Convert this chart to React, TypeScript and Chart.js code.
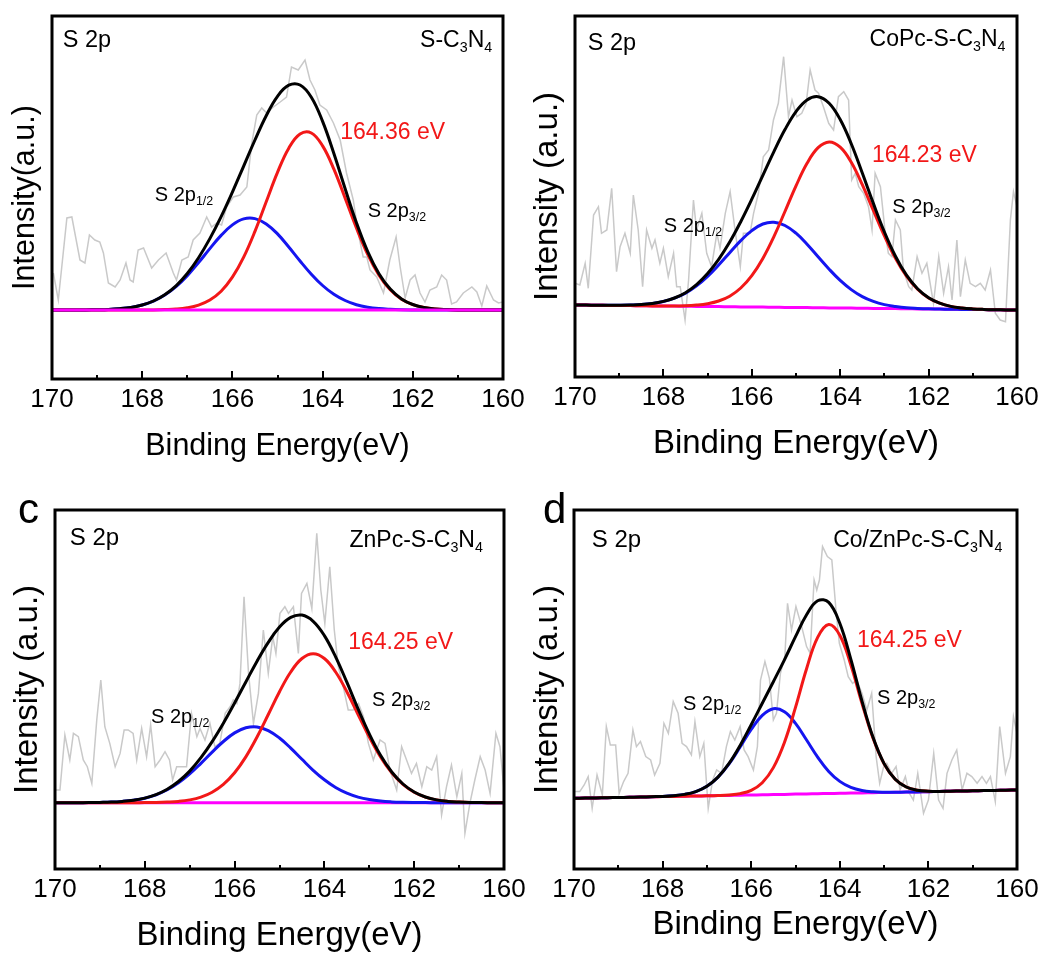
import React, { useEffect, useRef } from "react";
import { Chart, registerables } from "chart.js";

Chart.register(...registerables);

const FONT = '"Liberation Sans", Arial, Helvetica, sans-serif';

// common energy grid of the fitted curves (eV)
const energyGrid = [170, 169.75, 169.5, 169.25, 169, 168.75, 168.5, 168.25, 168, 167.75, 167.5, 167.25, 167, 166.75, 166.5, 166.25, 166, 165.75, 165.5, 165.25, 165, 164.75, 164.5, 164.25, 164, 163.75, 163.5, 163.25, 163, 162.75, 162.5, 162.25, 162, 161.75, 161.5, 161.25, 161, 160.75, 160.5, 160.25, 160];
const minorTickEnergies = [169, 167, 165, 163, 161];
const xTickStep = 2;

// ---------- panel a: S-C3N4 ----------
const aRawEnergy = [169.97, 169.86, 169.67, 169.56, 169.38, 169.27, 169.17, 169.05, 168.94, 168.86, 168.75, 168.6, 168.49, 168.36, 168.27, 168.2, 168.09, 167.97, 167.79, 167.64, 167.47, 167.31, 167.24, 167.12, 166.98, 166.87, 166.72, 166.57, 166.46, 166.35, 166.24, 166.13, 165.98, 165.83, 165.68, 165.57, 165.46, 165.35, 165.24, 165.09, 164.94, 164.8, 164.69, 164.54, 164.39, 164.28, 164.17, 164.06, 163.91, 163.76, 163.61, 163.47, 163.32, 163.21, 163.1, 163.02, 162.95, 162.8, 162.65, 162.51, 162.37, 162.28, 162.17, 162.06, 161.95, 161.84, 161.73, 161.62, 161.47, 161.36, 161.25, 161.14, 161.03, 160.88, 160.69, 160.58, 160.47, 160.36, 160.21, 160.1, 160.0];
const aRawIntensity = [37, 10, 92, 93, 50, 47, 75, 70, 68, 57, 27, 23, 30, 47, 30, 28, 60, 62, 42, 50, 57, 37, 30, 50, 53, 70, 77, 93, 83, 87, 85, 103, 113, 115, 123, 167, 195, 202, 197, 203, 208, 213, 243, 240, 250, 230, 220, 205, 200, 187, 170, 137, 110, 77, 53, 53, 40, 33, 17, 50, 73, 43, 12, 30, 35, 17, 8, 20, 23, 35, 30, 6, 8, 17, 23, 18, 4, 24, 10, 7, 8];
const aBaseline = [0, 0, 0, 0, 0, 0, 0, 0, 0, 0, 0, 0, 0, 0, 0, 0, 0, 0, 0, 0, 0, 0, 0, 0, 0, 0, 0, 0, 0, 0, 0, 0, 0, 0, 0, 0, 0, 0, 0, 0, 0];
const aPeak32 = [0, 0, 0, 0, 0, 0, 0, 0, 0, 0.1, 0.4, 0.9, 2.2, 4.9, 10.0, 18.8, 32.8, 52.8, 78.6, 108.2, 137.6, 161.8, 176.0, 177.0, 164.1, 140.8, 111.8, 82.0, 55.6, 34.9, 20.2, 10.8, 5.4, 2.5, 1.0, 0.4, 0.1, 0, 0, 0, 0];
const aPeak12 = [0, 0, 0, 0.1, 0.3, 0.6, 1.3, 2.6, 5.0, 8.9, 14.9, 23.3, 34.3, 47.4, 61.4, 74.6, 85.1, 91.1, 91.4, 86.1, 76.1, 63.0, 49.0, 35.8, 24.5, 15.7, 9.5, 5.3, 2.8, 1.4, 0.7, 0.3, 0.1, 0, 0, 0, 0, 0, 0, 0, 0];

// ---------- panel b: CoPc-S-C3N4 ----------
const bRawEnergy = [170.0, 169.89, 169.77, 169.7, 169.58, 169.47, 169.4, 169.28, 169.17, 169.06, 168.98, 168.87, 168.75, 168.68, 168.57, 168.47, 168.38, 168.26, 168.19, 168.08, 168.0, 167.89, 167.77, 167.7, 167.62, 167.51, 167.43, 167.32, 167.25, 167.13, 167.02, 166.91, 166.79, 166.72, 166.6, 166.49, 166.38, 166.26, 166.19, 166.04, 165.96, 165.85, 165.74, 165.62, 165.51, 165.4, 165.28, 165.17, 165.09, 164.98, 164.87, 164.77, 164.68, 164.57, 164.49, 164.38, 164.26, 164.15, 164.04, 163.92, 163.81, 163.74, 163.66, 163.58, 163.47, 163.36, 163.28, 163.21, 163.09, 162.98, 162.91, 162.83, 162.75, 162.64, 162.57, 162.45, 162.38, 162.26, 162.15, 162.04, 161.89, 161.77, 161.66, 161.55, 161.47, 161.36, 161.28, 161.17, 161.06, 160.94, 160.83, 160.72, 160.6, 160.49, 160.38, 160.26, 160.15, 160.08, 160.0];
const bRawIntensity = [21.7, 20, 41.7, 16.7, 90, 98.3, 71.7, 75, 116.7, 33.3, 58.3, 71.7, 51.7, 110, 75, 18.3, 75, 56.7, 65, 41.7, 56.7, 28.3, 51.7, 18.3, 18.3, -15, 25, 105, 75, 91.7, 51.7, 38.3, 71.7, 56.7, 91.7, 113.3, 75, 38.3, 71.7, 71.7, 91.7, 111.7, 148.3, 155, 185, 201.7, 248.3, 188.3, 205, 188.3, 191.7, 201.7, 235, 215, 211.7, 198.3, 181.7, 175, 208.3, 213.3, 205, 125, 131.7, 118.3, 111.7, 98.3, 75, 131.7, 118.3, 71.7, 51.7, 48.3, 85, 75, 35, 18.3, 15, 48.3, 31.7, 41.7, 1.7, 48.3, 11.7, 38.3, 5, 65, 8.3, 45, 21.7, 18.3, 21.7, 15, 35, -8.3, -15, -16.7, 85, 113.3, 98.3];
const bBaseline = [0, -0.1, -0.3, -0.4, -0.5, -0.6, -0.8, -0.9, -1.0, -1.1, -1.3, -1.4, -1.5, -1.6, -1.8, -1.9, -2.0, -2.1, -2.3, -2.4, -2.5, -2.6, -2.8, -2.9, -3.0, -3.1, -3.3, -3.4, -3.5, -3.6, -3.8, -3.9, -4.0, -4.1, -4.3, -4.4, -4.5, -4.6, -4.8, -4.9, -5.0];
const bPeak32 = [0, 0, 0, 0, 0, 0, 0, 0, 0.1, 0.2, 0.5, 1.3, 2.8, 5.6, 10.6, 18.9, 31.4, 48.7, 70.7, 95.9, 121.6, 144.3, 160.1, 166.0, 160.9, 145.9, 123.6, 98.0, 72.6, 50.3, 32.6, 19.7, 11.1, 5.9, 2.9, 1.4, 0.6, 0.2, 0.1, 0, 0];
const bPeak12 = [0, 0, 0, 0.1, 0.3, 0.6, 1.2, 2.4, 4.5, 7.9, 13.1, 20.5, 30.1, 41.6, 54.1, 66.3, 76.4, 83.1, 85.0, 81.9, 74.3, 63.4, 51.0, 38.7, 27.6, 18.5, 11.7, 7.0, 3.9, 2.1, 1.0, 0.5, 0.2, 0.1, 0, 0, 0, 0, 0, 0, 0];

// ---------- panel c: ZnPc-S-C3N4 ----------
const cRawEnergy = [170.0, 169.89, 169.78, 169.67, 169.59, 169.48, 169.37, 169.28, 169.18, 169.07, 168.98, 168.89, 168.78, 168.66, 168.55, 168.46, 168.37, 168.26, 168.18, 168.07, 167.96, 167.87, 167.77, 167.66, 167.55, 167.45, 167.38, 167.29, 167.18, 167.07, 166.96, 166.84, 166.77, 166.66, 166.55, 166.44, 166.33, 166.21, 166.1, 166.03, 165.95, 165.88, 165.79, 165.69, 165.58, 165.47, 165.36, 165.25, 165.15, 165.08, 164.99, 164.88, 164.8, 164.69, 164.58, 164.51, 164.39, 164.28, 164.17, 164.08, 163.99, 163.88, 163.78, 163.69, 163.58, 163.47, 163.36, 163.24, 163.13, 163.02, 162.91, 162.76, 162.65, 162.54, 162.39, 162.28, 162.17, 162.06, 161.95, 161.83, 161.72, 161.61, 161.5, 161.39, 161.28, 161.17, 161.05, 160.94, 160.87, 160.76, 160.65, 160.53, 160.42, 160.31, 160.18, 160.09, 160.0];
const cRawIntensity = [12.7, 12.7, 67.7, 42.7, 69.3, 66, 42.7, 36, 19.3, 82.7, 122.7, 76, 59.3, 36, 49.3, 72.7, 72.7, 69.3, 42.7, 74.3, 46, 77.7, 36, 42.7, 51, 42.7, 22.7, 36, 36, 36, 89.3, 66, 74.3, 62.7, 79.3, 56, 59.3, 89.3, 96, 102.7, 99.3, 119.3, 206, 129.3, 79.3, 109.3, 172.7, 129.3, 166, 149.3, 189.3, 196, 189.3, 196, 149.3, 209.3, 219.3, 194.3, 269.3, 212.7, 179.3, 236, 172.7, 136, 116, 92.7, 92.7, 99.3, 86, 59.3, 42.7, 62.7, 59.3, 32.7, 12.7, 56, 42.7, 29.3, 39.3, 16, 36, 32.7, 46, -12.3, 16, 37.7, 6, 29.3, -30.7, -0.7, 22.7, 46, 32.7, 9.3, 69.3, 56, 12.7];
const cBaseline = [0, 0, 0, 0, 0, 0, 0, 0, 0, 0, 0, 0, 0, 0, 0, 0, 0, 0, 0, 0, 0, 0, 0, 0, 0, 0, 0, 0, 0, 0, 0, 0, 0, 0, 0, 0, 0, 0, 0, 0, 0];
const cPeak32 = [0, 0, 0, 0, 0, 0, 0, 0, 0.1, 0.2, 0.6, 1.3, 2.8, 5.6, 10.5, 18.3, 29.9, 45.8, 65.7, 88.2, 111.0, 130.7, 144.2, 149.0, 144.2, 130.7, 111.0, 88.2, 65.7, 45.8, 29.9, 18.3, 10.5, 5.6, 2.8, 1.3, 0.6, 0.2, 0.1, 0, 0];
const cPeak12 = [0, 0, 0, 0.1, 0.3, 0.6, 1.3, 2.5, 4.5, 7.9, 12.9, 19.9, 28.8, 39.4, 50.6, 61.2, 69.8, 74.9, 75.8, 72.1, 64.7, 54.6, 43.4, 32.4, 22.9, 15.2, 9.5, 5.6, 3.1, 1.6, 0.8, 0.4, 0.2, 0.1, 0, 0, 0, 0, 0, 0, 0];

// ---------- panel d: Co/ZnPc-S-C3N4 ----------
const dRawEnergy = [170.0, 169.87, 169.77, 169.68, 169.59, 169.48, 169.36, 169.27, 169.18, 169.06, 168.98, 168.88, 168.78, 168.67, 168.59, 168.5, 168.38, 168.27, 168.18, 168.06, 167.97, 167.87, 167.76, 167.65, 167.56, 167.46, 167.35, 167.27, 167.16, 167.07, 166.97, 166.87, 166.78, 166.67, 166.56, 166.47, 166.37, 166.25, 166.16, 166.07, 165.95, 165.86, 165.79, 165.69, 165.59, 165.5, 165.43, 165.34, 165.24, 165.18, 165.09, 164.99, 164.86, 164.75, 164.67, 164.58, 164.52, 164.46, 164.39, 164.28, 164.18, 164.08, 164.01, 163.9, 163.81, 163.71, 163.62, 163.5, 163.39, 163.28, 163.18, 163.1, 163.01, 162.94, 162.83, 162.73, 162.64, 162.52, 162.43, 162.34, 162.24, 162.11, 162.0, 161.88, 161.77, 161.67, 161.58, 161.47, 161.36, 161.24, 161.13, 161.02, 160.9, 160.79, 160.69, 160.6, 160.49, 160.39, 160.26, 160.15, 160.08, 160.0];
const dRawIntensity = [6.7, 6.7, 13.3, 21.7, -10, 23.3, 3.3, 71.7, 53.3, 53.3, 5, 16.7, 25, 68.3, 51.7, 56.7, 41.7, 38.3, 23.3, 35, 75, 65, 96.7, 85, 55, 51.7, 43.3, 76.7, 41.7, 55, -10, 18.3, 28.3, 25, 51.7, 66.7, 58.3, 71.7, 48.3, 41.7, 28.3, 51.7, 118.3, 136.7, 120, 78.3, 85, 125, 141.7, 195, 168.3, 191.7, 171.7, 151.7, 145, 218.3, 208.3, 218.3, 251.7, 241.7, 238.3, 185, 155, 138.3, 121.7, 115, 118.3, 105, 88.3, 105, 41.7, 15, 31.7, 35, 25, 31.7, 8.3, 21.7, 5, -1.7, 25, -15, -1.7, 45, -1.7, -10, 25, 38.3, 48.3, 8.3, 25, 21.7, 15, 21.7, 15, 21.7, -3.3, 71.7, 25, 41.7, 81.7, 65];
const dBaseline = [0, 0.2, 0.4, 0.6, 0.8, 1.0, 1.2, 1.5, 1.7, 1.9, 2.1, 2.3, 2.5, 2.7, 2.9, 3.1, 3.3, 3.5, 3.7, 3.9, 4.2, 4.4, 4.6, 4.8, 5.0, 5.2, 5.4, 5.6, 5.8, 6.0, 6.2, 6.4, 6.6, 6.8, 7.1, 7.3, 7.5, 7.7, 7.9, 8.1, 8.3];
const dPeak32 = [0, 0, 0, 0, 0, 0, 0, 0, 0, 0, 0, 0, 0, 0.1, 0.5, 1.6, 4.7, 12.1, 27.0, 52.0, 86.7, 125.2, 156.3, 169.0, 158.1, 128.1, 89.7, 54.5, 28.6, 13.0, 5.1, 1.7, 0.5, 0.1, 0, 0, 0, 0, 0, 0, 0];
const dPeak12 = [0, 0, 0, 0, 0, 0, 0, 0.1, 0.2, 0.7, 1.8, 4.4, 9.5, 18.4, 31.5, 48.2, 65.6, 79.5, 85.9, 82.6, 70.7, 53.9, 36.6, 22.1, 11.9, 5.7, 2.4, 0.9, 0.3, 0.1, 0, 0, 0, 0, 0, 0, 0, 0, 0, 0, 0];

// texts
const sampleNames = [
  [["S-C", 0], ["3", 1], ["N", 0], ["4", 1]],
  [["CoPc-S-C", 0], ["3", 1], ["N", 0], ["4", 1]],
  [["ZnPc-S-C", 0], ["3", 1], ["N", 0], ["4", 1]],
  [["Co/ZnPc-S-C", 0], ["3", 1], ["N", 0], ["4", 1]],
];
const peakPositions = ["164.36 eV", "164.23 eV", "164.25 eV", "164.25 eV"];
const yTitles = ["Intensity(a.u.)", "Intensity (a.u.)", "Intensity (a.u.)", "Intensity (a.u.)"];
const xTitle = "Binding Energy(eV)";
const panelLetters = ["", "", "c", "d"];

const RED = "#f21818";
const BLUE = "#1515f0";
const MAGENTA = "#ff00ff";
const GRAY = "#c9c9c9";

type Seg = [string, number];
type Note = { segs: Seg[]; e: number; i: number; align: "left" | "right"; size: number; color: string };

const rawE = [aRawEnergy, bRawEnergy, cRawEnergy, dRawEnergy];
const rawI = [aRawIntensity, bRawIntensity, cRawIntensity, dRawIntensity];
const bases = [aBaseline, bBaseline, cBaseline, dBaseline];
const p32s = [aPeak32, bPeak32, cPeak32, dPeak32];
const p12s = [aPeak12, bPeak12, cPeak12, dPeak12];

// layout of each panel (pixels)
const layouts = [
  { left: 0, top: 0, width: 545, height: 478, pad: { left: 0, top: 16, right: 42, bottom: 0 }, yWidth: 52, xHeight: 99, yMin: -69, yMax: 294, titleSize: 30.5, xTitlePad: 16.5, yTitlePad: 10.4, tickPad: 8, baselineOnTop: true },
  { left: 520, top: 0, width: 532, height: 478, pad: { left: 0, top: 16, right: 35, bottom: 0 }, yWidth: 55, xHeight: 101, yMin: -72, yMax: 289, titleSize: 33, xTitlePad: 17.5, yTitlePad: 11, tickPad: 8, baselineOnTop: false },
  { left: 0, top: 478, width: 545, height: 478, pad: { left: 0, top: 32, right: 41, bottom: 0 }, yWidth: 55, xHeight: 87, yMin: -66.3, yMax: 292.7, titleSize: 33, xTitlePad: 4, yTitlePad: 11, tickPad: 8, baselineOnTop: false },
  { left: 520, top: 478, width: 532, height: 478, pad: { left: 0, top: 32, right: 35, bottom: 0 }, yWidth: 54, xHeight: 87, yMin: -70.7, yMax: 288.3, titleSize: 33, xTitlePad: 14.5, yTitlePad: 11, tickPad: 8, baselineOnTop: false },
];

// annotation anchors in data units [energy, intensity]
const notePos = [
  { s2p: [169.76, 269], name: [160.24, 269], peak: [163.61, 177], p12: [167.72, 115], p32: [163.0, 99], big: 23.5, small: 20 },
  { s2p: [169.71, 261], name: [160.26, 265], peak: [163.28, 149], p12: [167.99, 79], p32: [162.82, 98], big: 23.5, small: 20 },
  { s2p: [169.67, 264.7], name: [160.47, 261.7], peak: [163.47, 159.7], p12: [167.86, 85.7], p32: [162.94, 102.7], big: 24, small: 20 },
  { s2p: [169.6, 258.3], name: [160.33, 257.3], peak: [163.61, 157.3], p12: [167.54, 94.3], p32: [163.16, 100.3], big: 24, small: 20 },
];

function drawSegs(ctx: CanvasRenderingContext2D, n: Note, x: number, y: number) {
  const subSize = n.size * 0.62;
  let total = 0;
  n.segs.forEach(([t, sub]) => {
    ctx.font = `${sub ? subSize : n.size}px ${FONT}`;
    total += ctx.measureText(t).width;
  });
  let cx = n.align === "right" ? x - total : x;
  ctx.fillStyle = n.color;
  ctx.textAlign = "left";
  ctx.textBaseline = "middle";
  n.segs.forEach(([t, sub]) => {
    ctx.font = `${sub ? subSize : n.size}px ${FONT}`;
    ctx.fillText(t, cx, sub ? y + n.size * 0.32 : y);
    cx += ctx.measureText(t).width;
  });
}

function Panel({ idx }: { idx: number }) {
  const ref = useRef<HTMLCanvasElement>(null);
  const L = layouts[idx];
  useEffect(() => {
    if (!ref.current) return;
    const base = bases[idx];
    const p32 = p32s[idx];
    const p12 = p12s[idx];
    const toPts = (vals: number[]) => energyGrid.map((e, k) => ({ x: e, y: vals[k] }));
    const envelope = toPts(base.map((b, k) => b + p32[k] + p12[k]));
    const red = toPts(base.map((b, k) => b + p32[k]));
    const blue = toPts(base.map((b, k) => b + p12[k]));
    const baseline = toPts(base);
    const raw = rawE[idx].map((e, k) => ({ x: e, y: rawI[idx][k] }));

    const fitStyle = { pointRadius: 0, borderWidth: 3, tension: 0.4, fill: false, borderJoinStyle: "round" as const };
    const dsBlack = { data: envelope, borderColor: "#000", ...fitStyle };
    const dsRed = { data: red, borderColor: RED, ...fitStyle };
    const dsBlue = { data: blue, borderColor: BLUE, ...fitStyle };
    const dsBase = { data: baseline, borderColor: MAGENTA, ...fitStyle };
    const dsRaw = { data: raw, borderColor: GRAY, pointRadius: 0, borderWidth: 1.5, tension: 0, fill: false };
    // first dataset is drawn on top
    const datasets = L.baselineOnTop
      ? [dsBase, dsBlack, dsRed, dsBlue, dsRaw]
      : [dsBlack, dsRed, dsBlue, dsBase, dsRaw];

    const np = notePos[idx];
    const notes: Note[] = [
      { segs: [["S 2p", 0]], e: np.s2p[0], i: np.s2p[1], align: "left", size: np.big, color: "#000" },
      { segs: sampleNames[idx] as Seg[], e: np.name[0], i: np.name[1], align: "right", size: 23, color: "#000" },
      { segs: [[peakPositions[idx], 0]], e: np.peak[0], i: np.peak[1], align: "left", size: 23, color: RED },
      { segs: [["S 2p", 0], ["1/2", 1]], e: np.p12[0], i: np.p12[1], align: "left", size: np.small, color: "#000" },
      { segs: [["S 2p", 0], ["3/2", 1]], e: np.p32[0], i: np.p32[1], align: "left", size: np.small, color: "#000" },
    ];

    const decor = {
      id: "decor" + idx,
      afterDatasetsDraw(chart: any) {
        const { ctx, chartArea: ca, scales } = chart;
        const xs = scales.x;
        const ys = scales.y;
        ctx.save();
        ctx.strokeStyle = "#000";
        ctx.lineWidth = 2;
        xs.ticks.forEach((t: any) => {
          const px = Math.round(xs.getPixelForValue(t.value));
          ctx.beginPath();
          ctx.moveTo(px, ca.bottom);
          ctx.lineTo(px, ca.bottom - 8);
          ctx.stroke();
        });
        minorTickEnergies.forEach((v) => {
          const px = Math.round(xs.getPixelForValue(v));
          ctx.beginPath();
          ctx.moveTo(px, ca.bottom);
          ctx.lineTo(px, ca.bottom - 4);
          ctx.stroke();
        });
        ctx.lineWidth = 3;
        ctx.strokeRect(ca.left, ca.top, ca.right - ca.left, ca.bottom - ca.top);
        notes.forEach((n) => drawSegs(ctx, n, xs.getPixelForValue(n.e), ys.getPixelForValue(n.i)));
        ctx.restore();
      },
    };

    const chart = new Chart(ref.current, {
      type: "line",
      data: { datasets: datasets as any },
      options: {
        animation: false,
        responsive: false,
        maintainAspectRatio: false,
        layout: { padding: L.pad },
        plugins: { legend: { display: false }, tooltip: { enabled: false }, title: { display: false } },
        scales: {
          x: {
            type: "linear",
            reverse: true,
            min: 160,
            max: 170,
            ticks: {
              stepSize: xTickStep,
              autoSkip: false,
              maxRotation: 0,
              padding: L.tickPad,
              color: "#000",
              font: { family: FONT, size: 26, lineHeight: 1 },
              callback: (v: any) => String(v),
            },
            grid: { display: false, drawTicks: false },
            border: { display: false },
            title: {
              display: true,
              text: xTitle,
              color: "#000",
              font: { family: FONT, size: L.titleSize, lineHeight: 1 },
              padding: { top: 0, bottom: L.xTitlePad },
            },
            afterFit: (s: any) => {
              s.height = L.xHeight;
              s.paddingLeft = 0;
              s.paddingRight = 0;
            },
          },
          y: {
            type: "linear",
            min: L.yMin,
            max: L.yMax,
            ticks: { display: false },
            grid: { display: false, drawTicks: false },
            border: { display: false },
            title: {
              display: true,
              text: yTitles[idx],
              color: "#000",
              font: { family: FONT, size: L.titleSize, lineHeight: 1 },
              padding: { top: L.yTitlePad, bottom: 0 },
            },
            afterFit: (s: any) => {
              s.width = L.yWidth;
              s.paddingTop = 0;
              s.paddingBottom = 0;
            },
          },
        },
      } as any,
      plugins: [decor],
    });
    return () => chart.destroy();
  }, [idx]);

  return (
    <canvas
      ref={ref}
      width={L.width}
      height={L.height}
      style={{ position: "absolute", left: L.left, top: L.top, width: L.width, height: L.height }}
    />
  );
}

export default function App() {
  return (
    <div style={{ position: "absolute", left: 0, top: 0, width: 1052, height: 956, background: "#fff", overflow: "hidden" }}>
      {[0, 1, 2, 3].map((k) => (
        <Panel key={k} idx={k} />
      ))}
      {panelLetters.map((t, k) =>
        t ? (
          <div
            key={"l" + k}
            style={{
              position: "absolute",
              left: k === 2 ? 18 : 543,
              top: 487.5,
              fontFamily: FONT,
              fontSize: 42,
              lineHeight: 1,
              color: "#000",
            }}
          >
            {t}
          </div>
        ) : null
      )}
    </div>
  );
}
